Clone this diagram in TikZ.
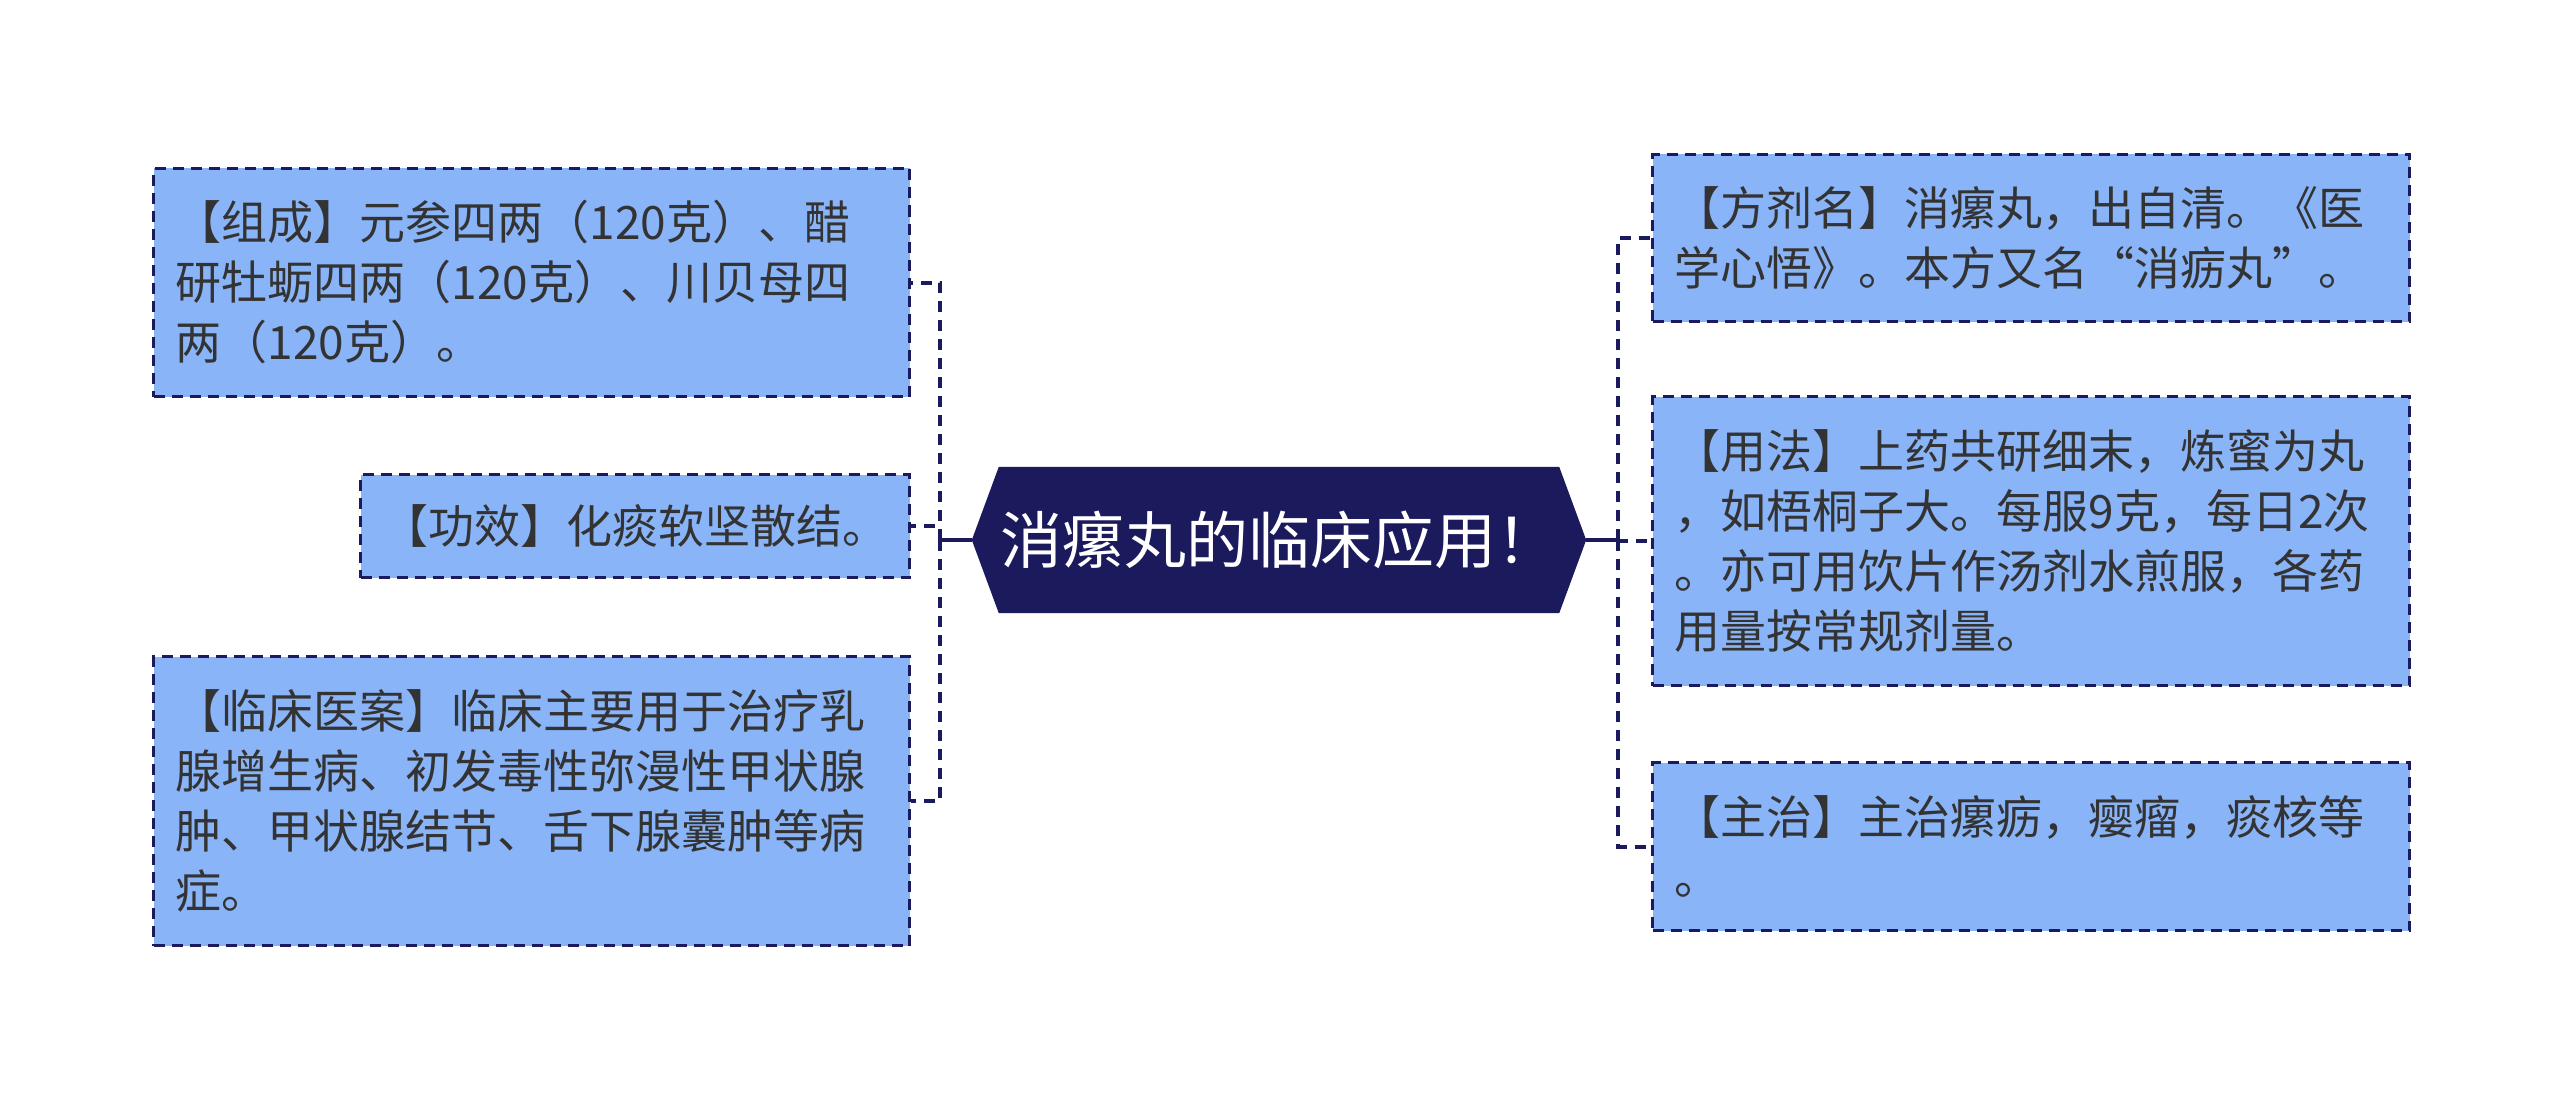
\documentclass[tikz,border=0pt]{standalone}
\usepackage{fontspec}
\setmainfont{Noto Sans CJK SC}
\usetikzlibrary{calc,backgrounds}
\definecolor{boxfill}{HTML}{8AB4F8}
\definecolor{navy}{HTML}{1B1A5C}
\definecolor{txt}{HTML}{333333}
\tikzset{
  infobox/.style={draw=navy, fill=boxfill, line width=3pt, dash pattern=on 11pt off 7pt,
    anchor=north west, align=left, inner xsep=22pt, inner ysep=0pt, text=txt,
    font=\fontsize{46}{60}\selectfont},
  dashlink/.style={draw=navy, line width=4pt, dash pattern=on 11pt off 8pt},
  solidlink/.style={draw=navy, line width=4.5pt},
}
\begin{document}
\begin{tikzpicture}[x=1pt,y=-1pt]
\useasboundingbox (0,0) rectangle (2560,1097);
% centre
\node[minimum width=614pt, minimum height=146pt, inner sep=0pt, text=white,
  font=\fontsize{62}{72}\selectfont] (hex) at (1279,540) {消瘰丸的临床应用！};
\begin{scope}[on background layer]
\fill[white] (0,0) rectangle (2560,1097);
\fill[navy] (hex.west) -- ($(hex.north west)+(27,0)$) -- ($(hex.north east)+(-27,0)$)
  -- (hex.east) -- ($(hex.south east)+(-27,0)$) -- ($(hex.south west)+(27,0)$) -- cycle;
\end{scope}
% left boxes
\node[infobox, text width=712pt, minimum height=228pt] (l1) at (152,167)
  {【组成】元参四两（120克）、醋\\研牡蛎四两（120克）、川贝母四\\两（120克）。};
\node[infobox, text width=505pt, minimum height=103pt] (l2) at (359,473)
  {【功效】化痰软坚散结。};
\node[infobox, text width=712pt, minimum height=289pt] (l3) at (152,655)
  {【临床医案】临床主要用于治疗乳\\腺增生病、初发毒性弥漫性甲状腺\\肿、甲状腺结节、舌下腺囊肿等病\\症。};
% right boxes
\node[infobox, text width=713pt, minimum height=167pt] (r1) at (1651,153)
  {【方剂名】消瘰丸，出自清。《医\\学心悟》。本方又名“消疬丸”。};
\node[infobox, text width=713pt, minimum height=289pt] (r2) at (1651,395)
  {【用法】上药共研细末，炼蜜为丸\\，如梧桐子大。每服9克，每日2次\\。亦可用饮片作汤剂水煎服，各药\\用量按常规剂量。};
\node[infobox, text width=713pt, minimum height=168pt] (r3) at (1651,761)
  {【主治】主治瘰疬，瘿瘤，痰核等\\。};
% connectors
\coordinate (jl) at (940,540);
\coordinate (jr) at (1618,540);
\draw[solidlink] (hex.west) -- (jl);
\draw[solidlink] (hex.east) -- (jr);
\draw[dashlink] (jl) |- (l1.east);
\draw[dashlink] (jl) |- (l2.east);
\draw[dashlink] (jl) |- (l3.east);
\draw[dashlink] (jr) |- (r1.west);
\draw[dashlink] (jr) |- (r2.west);
\draw[dashlink] (jr) |- (r3.west);
\end{tikzpicture}
\end{document}
